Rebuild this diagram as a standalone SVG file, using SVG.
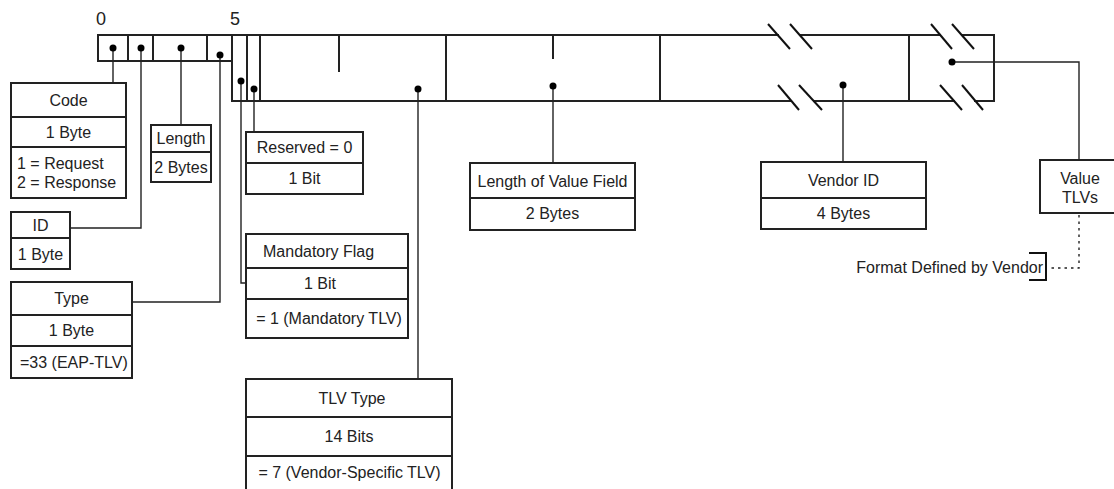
<svg xmlns="http://www.w3.org/2000/svg" width="1114" height="489" viewBox="0 0 1114 489">
<style>
text{font-family:"Liberation Sans",Arial,sans-serif;font-size:16px;fill:#222}
.c{text-anchor:middle}
.e{text-anchor:end}
.box{fill:#fff;stroke:#222;stroke-width:2}
.div{stroke:#222;stroke-width:2;fill:none}
.frame{fill:none;stroke:#222;stroke-width:2}
.ln{fill:none;stroke:#222;stroke-width:1.4}
.dot{fill:#000}
.slash{stroke:#111;stroke-width:2}
</style>
<rect width="1114" height="489" fill="#fff"/>
<g id="ruler">
<text class="c" x="101" y="25" style="font-size:18px">0</text>
<text class="c" x="235" y="25" style="font-size:18px">5</text>
</g>
<g id="packet">
<rect class="frame" x="98" y="35" width="134" height="26"/>
<line class="div" x1="128" y1="35" x2="128" y2="61"/>
<line class="div" x1="153" y1="35" x2="153" y2="61"/>
<line class="div" x1="207" y1="35" x2="207" y2="61" stroke-width="2.5"/>
<rect class="frame" x="232" y="35" width="762" height="66"/>
<line class="div" x1="247" y1="35" x2="247" y2="101" stroke-width="1.5"/>
<line class="div" x1="260" y1="35" x2="260" y2="101" stroke-width="1.5"/>
<line class="div" x1="339" y1="35" x2="339" y2="72"/>
<line class="div" x1="446" y1="35" x2="446" y2="101"/>
<line class="div" x1="553" y1="35" x2="553" y2="59"/>
<line class="div" x1="660" y1="35" x2="660" y2="101"/>
<line class="div" x1="909" y1="35" x2="909" y2="101"/>
<g id="breaks">
<rect x="779" y="32" width="20" height="6" fill="#fff"/>
<rect x="792" y="98" width="21" height="6" fill="#fff"/>
<rect x="941" y="32" width="20" height="6" fill="#fff"/>
<rect x="955" y="98" width="19" height="6" fill="#fff"/>
<line class="slash" x1="768" y1="24" x2="790" y2="49"/>
<line class="slash" x1="790" y1="24" x2="812" y2="49"/>
<line class="slash" x1="778" y1="85" x2="799" y2="110"/>
<line class="slash" x1="799" y1="85" x2="822" y2="110"/>
<line class="slash" x1="931" y1="24" x2="952" y2="49"/>
<line class="slash" x1="952" y1="24" x2="974" y2="49"/>
<line class="slash" x1="940" y1="85" x2="962" y2="110"/>
<line class="slash" x1="962" y1="85" x2="983" y2="110"/>
</g>
</g>
<g id="connectors">
<polyline class="ln" points="113,48 113,83"/>
<polyline class="ln" points="141,48 141,228 70,228"/>
<polyline class="ln" points="181,48 181,125"/>
<polyline class="ln" points="220,55 220,302 132,302"/>
<polyline class="ln" points="241,81 241,283 246,283"/>
<polyline class="ln" points="254,89 254,132"/>
<polyline class="ln" points="418,89 418,379"/>
<polyline class="ln" points="553,86 553,163"/>
<polyline class="ln" points="843,85 843,162"/>
<polyline class="ln" points="952,62 1079,62 1079,160"/>
<polyline class="ln" points="1079,215 1079,268 1049,268" stroke-dasharray="2.5,4" stroke-width="2.2"/>
<circle class="dot" cx="113" cy="48" r="3.5"/>
<circle class="dot" cx="141" cy="48" r="3.5"/>
<circle class="dot" cx="181" cy="48" r="3.5"/>
<circle class="dot" cx="220" cy="55" r="3.5"/>
<circle class="dot" cx="241" cy="81" r="3.5"/>
<circle class="dot" cx="254" cy="89" r="3.5"/>
<circle class="dot" cx="418" cy="89" r="3.5"/>
<circle class="dot" cx="553" cy="86" r="3.5"/>
<circle class="dot" cx="843" cy="85" r="3.5"/>
<circle class="dot" cx="952" cy="62" r="3.5"/>
</g>
<g id="code">
<rect class="box" x="11" y="83" width="115" height="115"/>
<line class="div" x1="11" y1="117" x2="126" y2="117"/>
<line class="div" x1="11" y1="147" x2="126" y2="147"/>
<text class="c" x="68.5" y="106">Code</text>
<text class="c" x="68.5" y="138">1 Byte</text>
<text x="17" y="169">1 = Request</text>
<text x="17" y="188">2 = Response</text>
</g>
<g id="id">
<rect class="box" x="11" y="212" width="59" height="57"/>
<line class="div" x1="11" y1="238" x2="70" y2="238"/>
<text class="c" x="40.5" y="231">ID</text>
<text class="c" x="40.5" y="260">1 Byte</text>
</g>
<g id="length">
<rect class="box" x="151" y="125" width="60" height="57"/>
<line class="div" x1="151" y1="152" x2="211" y2="152"/>
<text class="c" x="181" y="144">Length</text>
<text class="c" x="181" y="173">2 Bytes</text>
</g>
<g id="type">
<rect class="box" x="11" y="282" width="121" height="96"/>
<line class="div" x1="11" y1="315" x2="132" y2="315"/>
<line class="div" x1="11" y1="346" x2="132" y2="346"/>
<text class="c" x="71.5" y="304">Type</text>
<text class="c" x="71.5" y="336">1 Byte</text>
<text x="20" y="368">=33 (EAP-TLV)</text>
</g>
<g id="reserved">
<rect class="box" x="246" y="132" width="117" height="62"/>
<line class="div" x1="246" y1="163" x2="363" y2="163"/>
<text class="c" x="304.5" y="153">Reserved = 0</text>
<text class="c" x="304.5" y="184">1 Bit</text>
</g>
<g id="mandatory">
<rect class="box" x="246" y="234" width="162" height="104"/>
<line class="div" x1="246" y1="268" x2="408" y2="268"/>
<line class="div" x1="246" y1="299" x2="408" y2="299"/>
<text x="263" y="257">Mandatory Flag</text>
<text class="c" x="320" y="289">1 Bit</text>
<text class="c" x="329" y="324">= 1 (Mandatory TLV)</text>
</g>
<g id="tlvtype">
<rect class="box" x="246" y="379" width="206" height="120"/>
<line class="div" x1="246" y1="417" x2="452" y2="417"/>
<line class="div" x1="246" y1="456" x2="452" y2="456"/>
<text class="c" x="352" y="404">TLV Type</text>
<text class="c" x="349" y="442">14 Bits</text>
<text class="c" x="349.5" y="478">= 7 (Vendor-Specific TLV)</text>
</g>
<g id="lengthvalue">
<rect class="box" x="470" y="163" width="165" height="67"/>
<line class="div" x1="470" y1="198" x2="635" y2="198"/>
<text class="c" x="552.5" y="187">Length of Value Field</text>
<text class="c" x="552.5" y="219">2 Bytes</text>
</g>
<g id="vendorid">
<rect class="box" x="761" y="162" width="165" height="67"/>
<line class="div" x1="761" y1="198" x2="926" y2="198"/>
<text class="c" x="843.5" y="186">Vendor ID</text>
<text class="c" x="843.5" y="219">4 Bytes</text>
</g>
<g id="valuetlvs">
<rect class="box" x="1040" y="160" width="90" height="53"/>
<text class="c" x="1080" y="184">Value</text>
<text class="c" x="1080" y="203">TLVs</text>
</g>
<g id="format">
<path d="M1029,253 H1046 V280 H1029" fill="none" stroke="#111" stroke-width="2"/>
<text class="e" x="1043" y="273">Format Defined by Vendor</text>
</g>
</svg>
